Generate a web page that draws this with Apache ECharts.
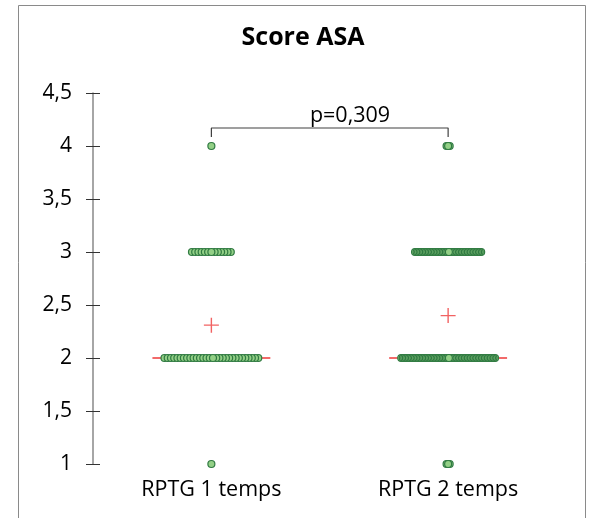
<!DOCTYPE html>
<html>
<head>
<meta charset="utf-8">
<script src="https://cdn.jsdelivr.net/npm/echarts@6/dist/echarts.min.js"></script>
<style>
html,body{margin:0;padding:0;background:#fff;}
#chart{width:592px;height:518px;}
</style>
</head>
<body>
<div id="chart"></div>
<script>
// ---- data ----
const chartTitle = 'Score ASA';
const categories = ['RPTG 1 temps', 'RPTG 2 temps'];
const scoreLevels = [1, 2, 3, 4];
const countsGroup1 = [1, 30, 13, 1];   // number of patients per ASA score
const countsGroup2 = [3, 62, 44, 3];
const meanValues = [2.31, 2.40];
const medianValues = [2, 2];
const yMin = 1, yMax = 4.5, yStep = 0.5;
const pValueText = 'p=0,309';
const bracketTop = 4.17, bracketBottom = 4.085;

// ---- layout helpers ----
const FONT = '"Open Sans", Lato, sans-serif';
const rowHalfSpan = 0.198;     // half width of the widest row (axis units)
const maxStep = 0.0148;
const medianHalf = 0.249;

function swarm(counts, center) {
  const nmax = Math.max.apply(null, counts);
  const step = Math.min(maxStep, (2 * rowHalfSpan) / Math.max(1, nmax - 1));
  const pts = [];
  counts.forEach((n, k) => {
    for (let i = 0; i < n; i++) {
      const off = (i - (n - 1) / 2) * step;
      pts.push([center + off, scoreLevels[k], Math.abs(off)]);
    }
  });
  // draw outer dots first so the centre one ends on top
  pts.sort((a, b) => b[2] - a[2]);
  return pts.map(p => [p[0], p[1]]);
}

const groups = [countsGroup1, countsGroup2];
const dotSeries = groups.map((c, g) => ({
  type: 'scatter',
  xAxisIndex: 1,
  symbol: 'circle',
  symbolSize: 7,
  z: 3,
  itemStyle: { color: '#93d086', borderColor: '#307a42', borderWidth: 1.2, opacity: 1 },
  data: swarm(c, g + 1),
  silent: true
}));

const medianSeries = medianValues.map((m, g) => ({
  type: 'line',
  xAxisIndex: 1,
  symbol: 'none',
  z: 2,
  lineStyle: { color: '#f26a6a', width: 2 },
  data: [[g + 1 - medianHalf, m], [g + 1 + medianHalf, m]],
  silent: true
}));

const meanSeries = {
  type: 'scatter',
  xAxisIndex: 1,
  symbol: 'path://M0,6.8h15v1.4h-15z M6.8,0h1.4v15h-1.4z',
  symbolSize: 15,
  z: 4,
  itemStyle: { color: '#ee3b3b' },
  data: meanValues.map((m, g) => [g + 1, m]),
  silent: true
};

const bracketSeries = {
  type: 'line',
  xAxisIndex: 1,
  symbol: 'none',
  z: 2,
  lineStyle: { color: '#404040', width: 1.2 },
  data: [[1, bracketBottom], [1, bracketTop], [2, bracketTop], [2, bracketBottom]],
  silent: true
};

const fmt = v => String(v).replace('.', ',');

const chart = echarts.init(document.getElementById('chart'), null, { renderer: 'canvas' });
chart.setOption({
  animation: false,
  backgroundColor: '#fff',
  title: {
    text: chartTitle,
    left: 298, top: 20, textAlign: 'center',
    textStyle: { fontFamily: FONT, fontWeight: 'bold', fontSize: 25, color: '#000' }
  },
  grid: { left: 93, right: 25.5, top: 93, bottom: 54, outerBoundsMode: 'none' },
  xAxis: [
    {
      type: 'category', data: categories, boundaryGap: true,
      axisLine: { show: false }, axisTick: { show: false },
      axisLabel: { margin: 15, fontFamily: FONT, fontSize: 21.5, color: '#000' }
    },
    { type: 'value', min: 0.5, max: 2.5, show: false }
  ],
  yAxis: [
    {
      type: 'value', min: yMin, max: yMax, interval: yStep,
      splitLine: { show: false },
      axisLine: { show: true, lineStyle: { color: '#888', width: 1.5 } },
      axisTick: { show: true, length: 7, lineStyle: { color: '#333', width: 1 } },
      axisLabel: { margin: 21, formatter: fmt, fontFamily: FONT, fontSize: 21, color: '#000' }
    },
    {
      type: 'value', min: yMin, max: yMax, interval: yStep, position: 'left',
      splitLine: { show: false },
      axisLine: { show: false },
      axisTick: { show: true, inside: true, length: 7, lineStyle: { color: '#333', width: 1 } },
      axisLabel: { show: false }
    }
  ],
  graphic: [
    { type: 'rect', shape: { x: 18.5, y: 5.5, width: 567, height: 530 },
      style: { fill: 'none', stroke: '#8a8a8a', lineWidth: 1 }, silent: true },
    { type: 'text', x: 350, y: 116,
      style: { text: pValueText, fontFamily: FONT, fontSize: 21.5, fill: '#000',
               align: 'center', verticalAlign: 'middle' }, silent: true }
  ],
  series: [bracketSeries].concat(medianSeries, dotSeries, [meanSeries])
});
</script>
</body>
</html>
